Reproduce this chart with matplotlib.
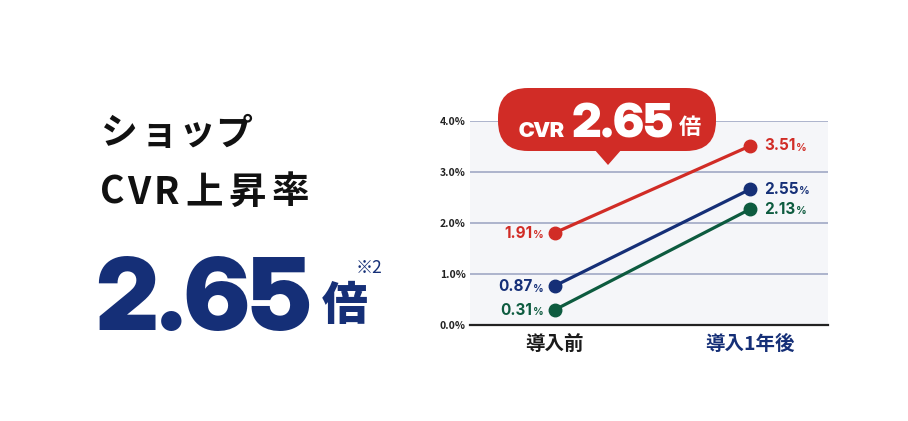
import matplotlib.pyplot as plt
from matplotlib.patches import FancyBboxPatch, Polygon

plt.rcParams['font.family'] = ['Noto Sans CJK JP', 'DejaVu Sans']

# data
periods = ['導入前', '導入1年後']
red_vals = [1.81, 3.51]
navy_vals = [0.77, 2.66]
green_vals = [0.30, 2.27]
red_labels = ['1.91', '3.51']
navy_labels = ['0.87', '2.55']
green_labels = ['0.31', '2.13']
yticks = [0, 1, 2, 3, 4]
ytick_labels = ['0.0%', '1.0%', '2.0%', '3.0%', '4.0%']

RED = '#d12c26'
NAVY = '#152f77'
GREEN = '#0d5b3f'
GRID = '#a7aec9'
BIGFONT = ['Inter Display', 'Inter', 'DejaVu Sans']
LABFONT = ['Inter', 'DejaVu Sans']

fig = plt.figure(figsize=(9.08, 4.21), dpi=100)
W, H = 908, 421

# line chart
ax = fig.add_axes([470 / W, 1 - 325 / H, 358 / W, 204 / H])
ax.set_facecolor('#f5f6f9')
ax.set_xlim(-0.436, 1.4)
ax.set_ylim(0, 4.0)
for s in ['top', 'right', 'left']:
    ax.spines[s].set_visible(False)
ax.spines['bottom'].set_color('#222222')
ax.spines['bottom'].set_linewidth(1.6)
for y in yticks[1:]:
    ax.axhline(y, color=GRID, lw=1.3, zorder=1)
ax.set_yticks(yticks)
ax.set_yticklabels(ytick_labels, fontsize=7.5, fontweight='bold', color='#222222')
ax.tick_params(axis='y', length=0, pad=3)
ax.set_xticks([0, 1])
ax.set_xticklabels(periods, fontsize=14, fontweight='bold')
ax.get_xticklabels()[1].set_color(NAVY)
ax.get_xticklabels()[0].set_color('#1a1a1a')
ax.tick_params(axis='x', length=0, pad=7)

series = [(red_vals, red_labels, RED), (navy_vals, navy_labels, NAVY),
          (green_vals, green_labels, GREEN)]
for vals, labs, col in series:
    ax.plot([0, 1], vals, color=col, lw=2.3, marker='o', ms=9, zorder=3)
    # left value: "%" anchored next to the point, number right before it
    pct = ax.annotate('%', (0, vals[0]), xytext=(-8, -2), textcoords='offset points',
                      ha='right', va='center', fontsize=7.5, fontweight='bold', color=col,
                      family=LABFONT)
    ax.annotate(labs[0], xy=(0, 0.5), xycoords=pct, xytext=(-0.5, 1.3),
                textcoords='offset points', ha='right', va='center',
                fontsize=11, fontweight='bold', color=col, family=LABFONT)
    # right value: number next to the point, "%" right after it
    num = ax.annotate(labs[1], (1, vals[1]), xytext=(10, 0), textcoords='offset points',
                      ha='left', va='center', fontsize=11, fontweight='bold', color=col,
                      family=LABFONT)
    ax.annotate('%', xy=(1, 0.5), xycoords=num, xytext=(0.5, -1.3),
                textcoords='offset points', ha='left', va='center',
                fontsize=7.5, fontweight='bold', color=col, family=LABFONT)

# overlay in pixel coordinates for the callout and the left text
ov = fig.add_axes([0, 0, 1, 1], zorder=5)
ov.set_xlim(0, W)
ov.set_ylim(H, 0)
ov.axis('off')
ov.patch.set_alpha(0)

ov.add_patch(FancyBboxPatch((498, 88), 218, 63, boxstyle='round,pad=0,rounding_size=30',
                            fc=RED, ec='none'))
ov.add_patch(Polygon([(594, 149), (622, 149), (608, 165)], closed=True, fc=RED, ec='none'))
ov.text(519, 137, 'CVR', fontsize=15.5, fontweight='black', color='white', va='baseline',
        ha='left', family=BIGFONT)
ov.text(572, 137, '2.65', fontsize=34, fontweight='black', color='white', va='baseline',
        ha='left', family=BIGFONT)
ov.text(679, 127, '倍', fontsize=16, fontweight='bold', color='white', va='center', ha='left')

# left headline, one glyph at a time for the wide tracking
for ch, x in zip('ショップ', [101, 141, 178, 215]):
    ov.text(x, 134, ch, fontsize=26.5, fontweight='bold', color='#111111',
            va='center', ha='left')
for ch, x in zip('CVR上昇率', [100, 127, 154, 185, 228, 272]):
    ov.text(x, 192, ch, fontsize=27, fontweight='bold', color='#111111',
            va='center', ha='left')
ov.text(95, 330, '2.65', fontsize=72, fontweight='black', color=NAVY,
        va='baseline', ha='left', family=BIGFONT)
ov.text(322, 306, '倍', fontsize=33, fontweight='heavy', color=NAVY, va='center', ha='left')
ov.text(356, 268, '※2', fontsize=12.5, color=NAVY, va='center', ha='left')

fig.savefig('out.png', dpi=100, facecolor='white')
